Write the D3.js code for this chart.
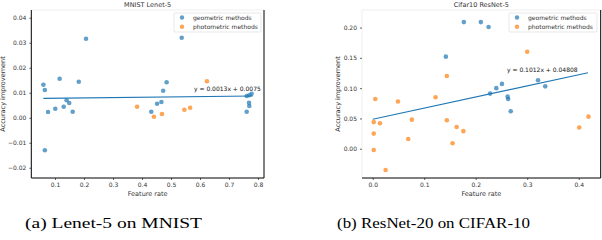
<!DOCTYPE html>
<html>
<head>
<meta charset="utf-8">
<script src="https://cdn.jsdelivr.net/npm/d3@7"></script>
<style>
  body { margin: 0; background: #fff; }
</style>
</head>
<body>
<script>
// MNIST / Lenet-5 points  [feature rate, accuracy improvement]
const mnistGeo = [
  [0.060, 0.0132], [0.065, 0.0111], [0.116, 0.0156], [0.182, 0.0144], [0.207, 0.0316],
  [0.473, 0.0108], [0.485, 0.0142], [0.537, 0.0320], [0.761, 0.0087], [0.770, 0.0090],
  [0.778, 0.0096], [0.065, -0.0130], [0.076, 0.0023], [0.101, 0.0036], [0.130, 0.0044],
  [0.140, 0.0070], [0.149, 0.0059], [0.161, 0.0024], [0.432, 0.0024], [0.452, 0.0056],
  [0.467, 0.0063], [0.761, 0.0024], [0.769, 0.0060], [0.770, 0.0047]
];
const mnistPhoto = [
  [0.624, 0.0146], [0.383, 0.0044], [0.441, 0.0004], [0.469, 0.0015], [0.546, 0.0032], [0.566, 0.0040]
];
const mnistFit = [[0.060, 0.00776], [0.782, 0.00868]];
const mnistXTicks = [0.1, 0.2, 0.3, 0.4, 0.5, 0.6, 0.7, 0.8];
const mnistYTicks = [-0.02, -0.01, 0.00, 0.01, 0.02, 0.03, 0.04];

// CIFAR-10 / ResNet points
const cifarGeo = [
  [0.177, 0.209], [0.210, 0.209], [0.225, 0.201], [0.142, 0.152], [0.321, 0.113], [0.335, 0.103],
  [0.251, 0.107], [0.240, 0.100], [0.228, 0.091], [0.262, 0.086], [0.263, 0.082], [0.268, 0.062]
];
const cifarPhoto = [
  [0.300, 0.160], [0.144, 0.120], [0.005, 0.082], [0.049, 0.078], [0.122, 0.085], [0.002, 0.044],
  [0.014, 0.042], [0.076, 0.048], [0.144, 0.047], [0.163, 0.036], [0.176, 0.029], [0.002, 0.025],
  [0.069, 0.016], [0.155, 0.009], [0.002, -0.002], [0.025, -0.035], [0.401, 0.035], [0.419, 0.053]
];
const cifarFit = [[0.0, 0.0487], [0.418, 0.1254]];
const cifarXTicks = [0.0, 0.1, 0.2, 0.3, 0.4];
const cifarYTicks = [0.00, 0.05, 0.10, 0.15, 0.20];

const legendNames = ["geometric methods", "photometric methods"];
const captions = ["(a) Lenet-5 on MNIST", "(b) ResNet-20 on CIFAR-10"];

const blue = "#1f77b4", orange = "#ff7f0e";
const sans = "DejaVu Sans";

const svg = d3.select("body").append("svg")
  .attr("width", 602)
  .attr("height", 240);

function drawPanel(opt) {
  const x = d3.scaleLinear().domain(opt.xDomain).range([opt.left, opt.right]);
  const y = d3.scaleLinear().domain(opt.yDomain).range([178, 10]);
  const g = svg.append("g").attr("font-family", sans);

  // spines
  const spine = (x1, y1, x2, y2, c) => g.append("line")
    .attr("x1", x1).attr("y1", y1).attr("x2", x2).attr("y2", y2)
    .attr("stroke", c).attr("stroke-width", c == "#000" ? 1 : 0.8);
  spine(opt.left, 10, opt.right, 10, "#ebebeb");
  spine(opt.left, 10, opt.left, 178, opt.leftSpine);
  spine(opt.right, 10, opt.right, 178, "#000");
  spine(opt.left, 178, opt.right, 178, "#000");

  // axes
  let xAxis = g.append("g").attr("transform", "translate(0,178)")
    .call(d3.axisBottom(x).tickValues(opt.xTicks).tickSize(2).tickPadding(3).tickFormat(d3.format(".1f")));
  let yAxis = g.append("g").attr("transform", `translate(${opt.left},0)`)
    .call(d3.axisLeft(y).tickValues(opt.yTicks).tickSize(2).tickPadding(3).tickFormat(v => d3.format(opt.yFmt)(v).replace("-", "\u2212")));
  [xAxis, yAxis].forEach(a => {
    a.attr("font-family", sans);
    a.select(".domain").remove();
    a.selectAll("text").attr("font-size", 6).attr("fill", "#333");
    a.selectAll("line").attr("stroke", "#000").attr("stroke-width", 0.6);
  });

  // fit line
  g.append("path")
    .datum(opt.fit)
    .attr("d", d3.line().x(d => x(d[0])).y(d => y(d[1])))
    .attr("stroke", blue).attr("stroke-width", 1.1).attr("fill", "none");

  // points
  [[opt.geo, blue], [opt.photo, orange]].forEach(([pts, c]) => {
    g.append("g").selectAll("circle")
      .data(pts).enter().append("circle")
        .attr("cx", d => x(d[0]))
        .attr("cy", d => y(d[1]))
        .attr("r", 2.3)
        .attr("fill", c)
        .attr("fill-opacity", 0.7);
  });

  // equation
  g.append("text")
    .attr("x", opt.eqX).attr("y", opt.eqY)
    .attr("font-size", 6).attr("fill", "#111")
    .text(opt.eq);

  // title, labels
  g.append("text")
    .attr("x", (opt.left + opt.right) / 2).attr("y", 7)
    .attr("text-anchor", "middle").attr("font-size", 6.5).attr("fill", "#333")
    .text(opt.title);
  g.append("text")
    .attr("x", (opt.left + opt.right) / 2).attr("y", 196)
    .attr("text-anchor", "middle").attr("font-size", 6.5).attr("fill", "#333")
    .text("Feature rate");
  g.append("text")
    .attr("transform", `translate(${opt.ylabX},94) rotate(-90)`)
    .attr("text-anchor", "middle").attr("font-size", 6.5).attr("fill", "#333")
    .text("Accuracy improvement");

  // legend
  const lg = g.append("g").attr("transform", `translate(${opt.legX},13)`);
  lg.append("rect").attr("width", opt.legW).attr("height", 19)
    .attr("fill", "#fff").attr("fill-opacity", 0.8)
    .attr("stroke", "#d8d8d8").attr("stroke-width", 0.6).attr("rx", 1);
  legendNames.forEach((n, i) => {
    lg.append("circle").attr("cx", 8).attr("cy", 4.5 + i * 9.3).attr("r", 2.2)
      .attr("fill", i ? orange : blue).attr("fill-opacity", 0.7);
    lg.append("text").attr("x", 19).attr("y", 6.6 + i * 9.3)
      .attr("font-size", 6).attr("fill", "#333").text(n);
  });

  // caption
  svg.append("text")
    .attr("x", opt.capX).attr("y", 228)
    .attr("font-family", "Liberation Serif")
    .attr("font-size", 15).attr("fill", "#000")
    .attr("textLength", opt.capW)
    .attr("lengthAdjust", "spacingAndGlyphs")
    .text(opt.caption);
}

drawPanel({
  left: 31.3, right: 264, leftSpine: "#000",
  xDomain: [0.0183, 0.8207], yDomain: [-0.0241, 0.0431],
  xTicks: mnistXTicks, yTicks: mnistYTicks, yFmt: ".2f",
  geo: mnistGeo, photo: mnistPhoto, fit: mnistFit,
  eq: "y = 0.0013x + 0.0075", eqX: 194, eqY: 91,
  title: "MNIST Lenet-5", ylabX: 5,
  legX: 174, legW: 87, caption: captions[0], capX: 25, capW: 177
});

drawPanel({
  left: 362, right: 600.7, leftSpine: "#ebebeb",
  xDomain: [-0.0208, 0.4427], yDomain: [-0.0483, 0.229],
  xTicks: cifarXTicks, yTicks: cifarYTicks, yFmt: ".2f",
  geo: cifarGeo, photo: cifarPhoto, fit: cifarFit,
  eq: "y = 0.1012x + 0.04808", eqX: 507, eqY: 72,
  title: "Cifar10 ResNet-5", ylabX: 340,
  legX: 509, legW: 88, caption: captions[1], capX: 337, capW: 193
});
</script>
</body>
</html>
